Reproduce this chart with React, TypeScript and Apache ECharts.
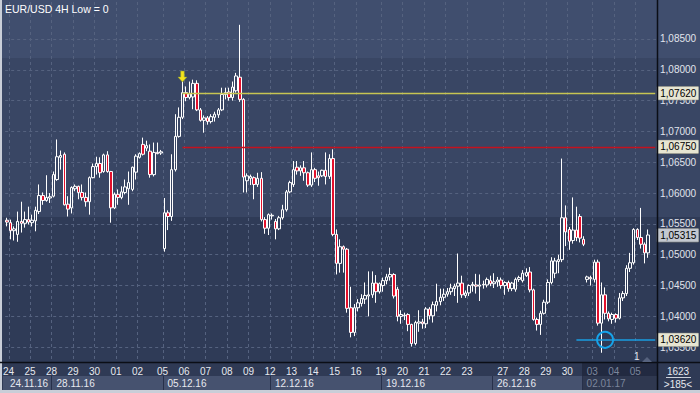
import React, { useEffect, useRef } from 'react';
import * as echarts from 'echarts';

// ---- time axis ----
const dayLabels = ['', '24', '25', '28', '29', '30', '01', '02', '05', '06', '07', '08', '09', '12', '13', '14', '15', '16', '19', '20', '21', '22', '23', '', '27', '28', '29', '30', '', '03', '04', '05'];
const dayCounts = [1, 6, 6, 6, 6, 6, 6, 7, 6, 6, 6, 6, 6, 6, 6, 6, 6, 7, 6, 6, 6, 6, 7, 3, 6, 6, 6, 4, 3, 6, 6, 4];
const weekLabels = ['24.11.16', '28.11.16', '05.12.16', '12.12.16', '19.12.16', '26.12.16', '02.01.17'];
const weekStartDays = [0, 3, 8, 13, 18, 23, 28];
const dimFromDay = 28;

// ---- price axis ----
const priceTicks = [1.035, 1.04, 1.045, 1.05, 1.055, 1.06, 1.065, 1.07, 1.075, 1.08, 1.085];
const priceMin = 1.0326;
const priceMax = 1.091;

// ---- annotations ----
const levelYellow = 1.0762;
const levelRed = 1.0675;
const levelBlue = 1.0362;
const lastPrice = 1.05315;
const arrowPrice = 1.0789;

// ---- candles [open, close, low, high] ----
const weekNov = [
  [1.0556, 1.0553, 1.0546, 1.0560], [1.0552, 1.0539, 1.0525, 1.0557], [1.0539, 1.0542, 1.0523, 1.0546], [1.0533, 1.0554, 1.0521, 1.0570],
  [1.0554, 1.0551, 1.0536, 1.0586], [1.0551, 1.0557, 1.0544, 1.0570], [1.0557, 1.0553, 1.0549, 1.0578], [1.0552, 1.0556, 1.0546, 1.0565],
  [1.0555, 1.0572, 1.0538, 1.0578], [1.0570, 1.0596, 1.0566, 1.0614], [1.0596, 1.0588, 1.0581, 1.0601], [1.0588, 1.0593, 1.0586, 1.0629],
  [1.0592, 1.0594, 1.0584, 1.0600], [1.0595, 1.0630, 1.0593, 1.0635], [1.0622, 1.0659, 1.0620, 1.0687], [1.0658, 1.0661, 1.0638, 1.0669],
  [1.0663, 1.0581, 1.0580, 1.0666], [1.0582, 1.0574, 1.0562, 1.0595], [1.0576, 1.0609, 1.0567, 1.0611], [1.0607, 1.0611, 1.0603, 1.0614],
  [1.0611, 1.0601, 1.0590, 1.0612], [1.0601, 1.0593, 1.0588, 1.0614], [1.0593, 1.0586, 1.0578, 1.0601], [1.0586, 1.0625, 1.0565, 1.0627],
  [1.0625, 1.0643, 1.0624, 1.0648], [1.0643, 1.0648, 1.0630, 1.0659], [1.0648, 1.0633, 1.0625, 1.0658], [1.0635, 1.0662, 1.0633, 1.0664],
  [1.0662, 1.0635, 1.0633, 1.0668], [1.0635, 1.0576, 1.0552, 1.0636], [1.0576, 1.0598, 1.0574, 1.0601], [1.0598, 1.0593, 1.0581, 1.0606],
  [1.0593, 1.0602, 1.0590, 1.0611], [1.0601, 1.0610, 1.0598, 1.0622], [1.0607, 1.0617, 1.0581, 1.0635], [1.0606, 1.0642, 1.0603, 1.0643],
  [1.0634, 1.0660, 1.0622, 1.0663], [1.0658, 1.0664, 1.0656, 1.0666], [1.0679, 1.0663, 1.0661, 1.0690], [1.0673, 1.0677, 1.0668, 1.0685],
  [1.0668, 1.0630, 1.0625, 1.0679], [1.0630, 1.0666, 1.0627, 1.0682], [1.0666, 1.0664, 1.0663, 1.0682], [1.0665, 1.0667, 1.0662, 1.0670],
];
const weekDec05 = [
  [1.0510, 1.0568, 1.0505, 1.0592], [1.0568, 1.0562, 1.0540, 1.0572], [1.0562, 1.0638, 1.0555, 1.0663], [1.0638, 1.0692, 1.0635, 1.0728],
  [1.0692, 1.0723, 1.0690, 1.0739], [1.0723, 1.0763, 1.0720, 1.0796], [1.0763, 1.0755, 1.0749, 1.0773], [1.0755, 1.0761, 1.0752, 1.0781],
  [1.0756, 1.0778, 1.0736, 1.0784], [1.0778, 1.0735, 1.0733, 1.0783], [1.0735, 1.0718, 1.0716, 1.0738], [1.0718, 1.0722, 1.0698, 1.0726],
  [1.0722, 1.0716, 1.0711, 1.0725], [1.0716, 1.0724, 1.0713, 1.0728], [1.0723, 1.0728, 1.0716, 1.0732], [1.0727, 1.0735, 1.0722, 1.0738],
  [1.0735, 1.0760, 1.0733, 1.0771], [1.0760, 1.0763, 1.0752, 1.0771], [1.0764, 1.0755, 1.0750, 1.0771], [1.0755, 1.0772, 1.0750, 1.0781],
  [1.0766, 1.0790, 1.0763, 1.0795], [1.0788, 1.0752, 1.0748, 1.0873], [1.0752, 1.0626, 1.0601, 1.0754], [1.0620, 1.0628, 1.0601, 1.0632],
  [1.0624, 1.0627, 1.0613, 1.0630], [1.0625, 1.0614, 1.0590, 1.0627], [1.0614, 1.0624, 1.0610, 1.0633], [1.0624, 1.0557, 1.0554, 1.0634],
  [1.0557, 1.0543, 1.0534, 1.0561], [1.0543, 1.0565, 1.0532, 1.0567],
];
const weekDec12 = [
  [1.0563, 1.0564, 1.0557, 1.0567], [1.0554, 1.0542, 1.0525, 1.0558], [1.0542, 1.0560, 1.0540, 1.0563], [1.0560, 1.0573, 1.0557, 1.0581],
  [1.0573, 1.0602, 1.0570, 1.0605], [1.0602, 1.0617, 1.0600, 1.0620], [1.0614, 1.0638, 1.0610, 1.0652], [1.0642, 1.0636, 1.0630, 1.0652],
  [1.0636, 1.0641, 1.0628, 1.0645], [1.0641, 1.0633, 1.0620, 1.0652], [1.0633, 1.0613, 1.0610, 1.0635], [1.0613, 1.0638, 1.0610, 1.0666],
  [1.0638, 1.0624, 1.0618, 1.0641], [1.0628, 1.0625, 1.0612, 1.0635], [1.0628, 1.0637, 1.0626, 1.0638], [1.0637, 1.0627, 1.0614, 1.0666],
  [1.0627, 1.0656, 1.0623, 1.0663], [1.0656, 1.0533, 1.0530, 1.0671], [1.0533, 1.0486, 1.0468, 1.0541], [1.0486, 1.0513, 1.0471, 1.0525],
  [1.0513, 1.0509, 1.0471, 1.0515], [1.0509, 1.0413, 1.0406, 1.0511], [1.0414, 1.0374, 1.0366, 1.0448], [1.0374, 1.0414, 1.0368, 1.0420],
  [1.0414, 1.0422, 1.0408, 1.0428], [1.0421, 1.0429, 1.0416, 1.0436], [1.0428, 1.0434, 1.0420, 1.0455], [1.0433, 1.0435, 1.0400, 1.0473],
  [1.0435, 1.0454, 1.0430, 1.0473], [1.0454, 1.0440, 1.0422, 1.0467], [1.0440, 1.0453, 1.0437, 1.0455],
];
const weekDec19 = [
  [1.0450, 1.0458, 1.0440, 1.0463], [1.0458, 1.0464, 1.0452, 1.0469], [1.0464, 1.0468, 1.0458, 1.0479], [1.0468, 1.0433, 1.0429, 1.0470],
  [1.0444, 1.0400, 1.0392, 1.0448], [1.0400, 1.0403, 1.0388, 1.0410], [1.0402, 1.0401, 1.0394, 1.0406], [1.0403, 1.0387, 1.0376, 1.0405],
  [1.0387, 1.0356, 1.0351, 1.0388], [1.0356, 1.0390, 1.0353, 1.0393], [1.0389, 1.0391, 1.0375, 1.0410], [1.0391, 1.0388, 1.0380, 1.0396],
  [1.0388, 1.0412, 1.0381, 1.0415], [1.0412, 1.0401, 1.0395, 1.0415], [1.0401, 1.0419, 1.0390, 1.0424], [1.0418, 1.0424, 1.0408, 1.0453],
  [1.0424, 1.0431, 1.0418, 1.0445], [1.0431, 1.0436, 1.0425, 1.0445], [1.0436, 1.0440, 1.0432, 1.0446], [1.0440, 1.0446, 1.0435, 1.0453],
  [1.0445, 1.0449, 1.0433, 1.0453], [1.0449, 1.0454, 1.0422, 1.0502], [1.0454, 1.0435, 1.0430, 1.0466], [1.0434, 1.0438, 1.0430, 1.0442],
  [1.0438, 1.0450, 1.0433, 1.0452], [1.0450, 1.0452, 1.0440, 1.0456], [1.0451, 1.0449, 1.0437, 1.0469], [1.0449, 1.0451, 1.0425, 1.0468],
  [1.0451, 1.0452, 1.0445, 1.0458], [1.0451, 1.0460, 1.0447, 1.0463], [1.0458, 1.0453, 1.0449, 1.0466],
];
const weekDec26 = [
  [1.0453, 1.0456, 1.0446, 1.0470], [1.0456, 1.0459, 1.0448, 1.0464], [1.0459, 1.0450, 1.0445, 1.0463], [1.0450, 1.0455, 1.0435, 1.0457],
  [1.0455, 1.0445, 1.0440, 1.0458], [1.0445, 1.0454, 1.0441, 1.0456], [1.0444, 1.0460, 1.0440, 1.0463], [1.0460, 1.0463, 1.0456, 1.0466],
  [1.0458, 1.0470, 1.0455, 1.0475], [1.0466, 1.0471, 1.0464, 1.0478], [1.0472, 1.0443, 1.0439, 1.0480], [1.0443, 1.0395, 1.0393, 1.0445],
  [1.0395, 1.0387, 1.0377, 1.0398], [1.0387, 1.0405, 1.0370, 1.0409], [1.0405, 1.0423, 1.0403, 1.0427], [1.0423, 1.0455, 1.0420, 1.0460],
  [1.0455, 1.0490, 1.0452, 1.0496], [1.0470, 1.0490, 1.0462, 1.0495], [1.0489, 1.0492, 1.0470, 1.0500], [1.0492, 1.0560, 1.0488, 1.0656],
  [1.0560, 1.0537, 1.0514, 1.0580], [1.0541, 1.0522, 1.0508, 1.0545], [1.0523, 1.0540, 1.0518, 1.0593], [1.0540, 1.0528, 1.0522, 1.0578],
  [1.0562, 1.0527, 1.0520, 1.0566],
];
const weekJan02 = [
  [1.0525, 1.0517, 1.0514, 1.0530], [1.0460, 1.0464, 1.0455, 1.0466], [1.0463, 1.0461, 1.0450, 1.0466],
  [1.0460, 1.0488, 1.0455, 1.0492], [1.0488, 1.0389, 1.0385, 1.0492], [1.0389, 1.0435, 1.0341, 1.0455], [1.0435, 1.0405, 1.0395, 1.0447],
  [1.0405, 1.0396, 1.0392, 1.0408], [1.0395, 1.0403, 1.0388, 1.0406], [1.0403, 1.0397, 1.0390, 1.0405], [1.0397, 1.0430, 1.0395, 1.0438],
  [1.0430, 1.0437, 1.0425, 1.0441], [1.0437, 1.0478, 1.0433, 1.0483], [1.0478, 1.0487, 1.0472, 1.0503], [1.0487, 1.0541, 1.0484, 1.0543],
  [1.0541, 1.0528, 1.0524, 1.0543], [1.0528, 1.0517, 1.0510, 1.0576], [1.0517, 1.0503, 1.0486, 1.0520], [1.0503, 1.0532, 1.0495, 1.0541],
];

const FONT = '"Liberation Sans", Arial, sans-serif';
const fmt = (v: number) => v.toFixed(5).replace('.', ',');

export default function App() {
  const ref = useRef<HTMLDivElement>(null);
  useEffect(() => {
    document.body.style.margin = '0';
    const cats: string[] = [];
    const dayStart: Record<number, string> = {};
    const weekStart: Record<number, string> = {};
    const dim = new Set<number>();
    let idx = 0;
    dayCounts.forEach((n, d) => {
      if (dayLabels[d]) dayStart[idx] = dayLabels[d];
      const w = weekStartDays.indexOf(d);
      if (w >= 0) weekStart[idx] = weekLabels[w];
      for (let k = 0; k < n; k++) {
        cats.push(d + '-' + k);
        if (d >= dimFromDay) dim.add(idx);
        idx++;
      }
    });
    const lastIdx = idx - 1;
    cats.push('pad-0', 'pad-1');
    const edge = cats.length - 1;
    const candles = [...weekNov, ...weekDec05, ...weekDec12, ...weekDec19, ...weekDec26, ...weekJan02];

    const tag = (text: string, bg: string) => ({
      show: true, position: 'end', distance: 2, formatter: text, backgroundColor: bg,
      color: '#000', padding: [2, 2, 1, 3], fontSize: 10, fontFamily: FONT,
      borderColor: '#8d8d80', borderWidth: 0.5,
    });

    const chart = echarts.init(ref.current!, null, { renderer: 'svg' });
    const gridColor = '#55627f';
    chart.setOption({
      animation: false,
      backgroundColor: '#2f3b57',
      grid: { left: 4, top: 2, width: 653, height: 360 },
      xAxis: [
        {
          type: 'category', data: cats, boundaryGap: true,
          axisLine: { show: false }, axisTick: { show: false },
          axisLabel: {
            interval: (i: number) => dayStart[i] !== undefined,
            formatter: (_v: string, i: number) => dayStart[i] || '',
            color: (v: string) => (dim.has(cats.indexOf(v)) ? '#7c869c' : '#e6e9ef'),
            fontSize: 10, fontFamily: FONT, margin: 4, padding: [0, 4, 0, 0],
          },
          splitLine: { show: true, interval: (i: number) => dayStart[i] !== undefined, lineStyle: { color: gridColor, type: [3, 3], width: 1 } },
        },
        {
          type: 'category', data: cats, boundaryGap: true, position: 'bottom', offset: 14,
          axisLine: { show: false },
          axisTick: { show: true, interval: (i: number) => weekStart[i] !== undefined && i > 0, length: 14, lineStyle: { color: '#27304a', width: 1 } },
          axisLabel: {
            interval: (i: number) => weekStart[i] !== undefined,
            formatter: (_v: string, i: number) => weekStart[i] || '',
            color: (v: string) => (dim.has(cats.indexOf(v)) ? '#7c869c' : '#e6e9ef'),
            align: 'left', fontSize: 10, fontFamily: FONT, margin: 2, padding: [0, 0, 0, 3],
          },
          splitLine: { show: false },
        },
      ],
      yAxis: {
        type: 'value', position: 'right', min: priceMin, max: priceMax,
        axisLine: { show: false },
        axisTick: { show: false, customValues: priceTicks },
        axisLabel: { customValues: priceTicks, formatter: (v: number) => fmt(v), color: '#e0e4ec', fontSize: 10, fontFamily: FONT, margin: 3 },
        splitLine: { show: true, lineStyle: { color: gridColor, type: [3, 3], width: 1 } },
      },
      series: [
        {
          type: 'candlestick', data: candles, barWidth: 3,
          itemStyle: { color: 'rgba(0,0,0,0)', color0: '#e3102c', borderColor: '#ffffff', borderColor0: '#ffffff', borderWidth: 1 },
          markLine: {
            symbol: ['none', 'none'], silent: true,
            data: [
              [{ coord: [49, levelYellow], lineStyle: { color: '#c6c452', width: 1.3, type: 'solid' }, label: tag(fmt(levelYellow), '#e6e5d2') }, { coord: [edge, levelYellow] }],
              [{ coord: [49, levelRed], lineStyle: { color: '#c3121f', width: 1.3, type: 'solid' }, label: tag(fmt(levelRed), '#e6e5d2') }, { coord: [edge, levelRed] }],
              [{ coord: [159, levelBlue], lineStyle: { color: '#1a9ee0', width: 1.5, type: 'solid' }, label: tag(fmt(levelBlue), '#e6e5d2') }, { coord: [edge, levelBlue] }],
              [{ coord: [lastIdx, lastPrice], lineStyle: { color: 'rgba(0,0,0,0)', width: 0 }, label: tag(fmt(lastPrice), '#c3c8d0') }, { coord: [edge, lastPrice] }],
            ],
          },
          markPoint: {
            silent: true,
            data: [
              { coord: [167, levelBlue], symbol: 'circle', symbolSize: 16, itemStyle: { color: 'rgba(0,0,0,0)', borderColor: '#16a3ea', borderWidth: 2 }, label: { show: false } },
              { coord: [49, arrowPrice], symbol: 'path://M3,0L7,0L7,6L10,6L5,11L0,6L3,6Z', symbolSize: [9, 11], itemStyle: { color: '#f4e41c', borderColor: '#8ea030', borderWidth: 0.5 }, label: { show: false } },
            ],
          },
        },
      ],
      graphic: [
        { type: 'rect', z: -10, silent: true, shape: { x: 0, y: 0, width: 700, height: 58 }, style: { fill: '#404e6e' } },
        { type: 'rect', z: -10, silent: true, shape: { x: 0, y: 58, width: 700, height: 159 }, style: { fill: '#394664' } },
        { type: 'rect', z: -9, silent: true, shape: { x: 0, y: 363, width: 700, height: 27 }, style: { fill: '#2f3a55' } },
        { type: 'rect', z: -9, silent: true, shape: { x: 3, y: 376, width: 654, height: 14 }, style: { fill: '#46526f' } },
        { type: 'rect', z: -8, silent: true, shape: { x: 582, y: 363, width: 75, height: 27 }, style: { fill: 'rgba(16,22,38,0.42)' } },
        { type: 'rect', z: 10, silent: true, shape: { x: 0, y: 390, width: 700, height: 3 }, style: { fill: '#c9ced8' } },
        { type: 'rect', z: 10, silent: true, shape: { x: 0, y: 0, width: 2, height: 393 }, style: { fill: '#c9ced8' } },
        { type: 'line', z: 10, silent: true, shape: { x1: 0, y1: 362.5, x2: 700, y2: 362.5 }, style: { stroke: '#0b0e16', lineWidth: 1.5 } },
        { type: 'line', z: 10, silent: true, shape: { x1: 657.5, y1: 0, x2: 657.5, y2: 390 }, style: { stroke: '#0b0e16', lineWidth: 1.5 } },
        { type: 'text', z: 10, silent: true, x: 5, y: 3, style: { text: 'EUR/USD 4H Low = 0', fill: '#ffffff', fontSize: 10.5, fontFamily: FONT } },
        { type: 'text', z: 10, silent: true, x: 678, y: 366, style: { text: '1623', fill: '#e6e9ef', fontSize: 10, fontFamily: FONT, textAlign: 'center', align: 'center' } },
        { type: 'line', z: 10, silent: true, shape: { x1: 666, y1: 377.5, x2: 691, y2: 377.5 }, style: { stroke: '#cdd2db', lineWidth: 1 } },
        { type: 'text', z: 10, silent: true, x: 678, y: 379, style: { text: '>185<', fill: '#e6e9ef', fontSize: 10, fontFamily: FONT, textAlign: 'center', align: 'center' } },
        { type: 'text', z: 10, silent: true, x: 634, y: 351, style: { text: '1', fill: '#e6e9ef', fontSize: 10, fontFamily: FONT } },
        { type: 'polygon', z: 10, silent: true, shape: { points: [[642, 362], [652, 362], [647, 357]] }, style: { fill: '#56627e' } },
      ],
    });
    return () => chart.dispose();
  }, []);
  return <div ref={ref} style={{ width: 700, height: 393 }} />;
}
